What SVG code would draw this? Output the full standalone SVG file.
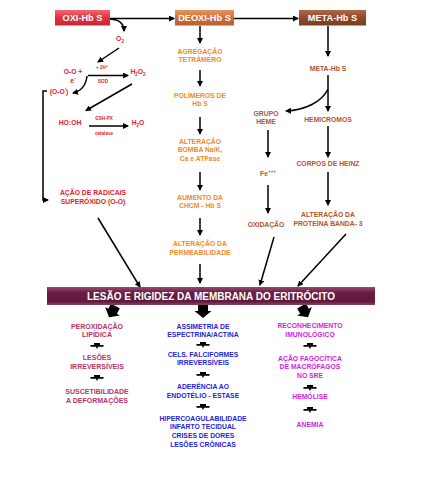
<svg xmlns="http://www.w3.org/2000/svg" width="426" height="480" viewBox="0 0 426 480">
<defs>
<style>
text{font-family:"Liberation Sans",Arial,sans-serif;font-weight:bold;text-anchor:middle}
.hd{fill:#fff;font-size:9.2px}
.red{fill:#e8202a;font-size:6.8px}
.sm{fill:#e8202a;font-size:4.6px}
.or{fill:#f28a1e;font-size:6.8px}
.br{fill:#b4552a;font-size:6.8px}
.c1{fill:#b8336a;font-size:7px}
.c2{fill:#2424d8;font-size:6.8px}
.c3{fill:#d21ee0;font-size:6.8px}
.bar{fill:#fff;font-size:10px}
.ln{stroke:#000;stroke-width:1.5;fill:none}
</style>
<marker id="ah" markerWidth="6" markerHeight="6" refX="5" refY="3" orient="auto" markerUnits="userSpaceOnUse"><path d="M0,0 L6,3 L0,6 Z" fill="#000"/></marker>
<linearGradient id="gOxi" x1="0" y1="0" x2="0" y2="1"><stop offset="0" stop-color="#f06a72"/><stop offset="0.5" stop-color="#e0303c"/><stop offset="1" stop-color="#c82834"/></linearGradient>
<linearGradient id="gDeo" x1="0" y1="0" x2="0" y2="1"><stop offset="0" stop-color="#e8935e"/><stop offset="0.5" stop-color="#d0703c"/><stop offset="1" stop-color="#b85e30"/></linearGradient>
<linearGradient id="gMeta" x1="0" y1="0" x2="0" y2="1"><stop offset="0" stop-color="#b06848"/><stop offset="0.5" stop-color="#8e4a2c"/><stop offset="1" stop-color="#7a3c22"/></linearGradient>
<linearGradient id="gBar" x1="0" y1="0" x2="0" y2="1"><stop offset="0" stop-color="#9a4a70"/><stop offset="0.3" stop-color="#6b1d44"/><stop offset="0.8" stop-color="#5e1a3c"/><stop offset="1" stop-color="#8a4066"/></linearGradient>
<polygon id="big" points="-5,-7 5,-7 5,-1 8.5,-1 0,6 -8.5,-1 -5,-1" fill="#000"/>
<polygon id="small" points="-3,-3 3,-3 3,-1 6.5,-1 6.5,0.8 1.2,0.8 0,3 -1.2,0.8 -6.5,0.8 -6.5,-1 -3,-1" fill="#000"/>
</defs>

<g id="connectors">
<line class="ln" x1="110" y1="18.5" x2="174" y2="18.5" marker-end="url(#ah)"/>
<line class="ln" x1="234" y1="18.5" x2="298" y2="18.5" marker-end="url(#ah)"/>
<path class="ln" d="M108,19 C118,19 124,22 124,31" marker-end="url(#ah)"/>
<line class="ln" x1="119" y1="48" x2="98" y2="62" marker-end="url(#ah)"/>
<line class="ln" x1="88" y1="75.5" x2="128" y2="75.5" marker-end="url(#ah)"/>
<path class="ln" d="M87,76 C86,86 81,91 73,93" marker-end="url(#ah)"/>
<polyline class="ln" points="47,91 43,91 43,200 48,200" marker-end="url(#ah)"/>
<line class="ln" x1="132" y1="84" x2="86" y2="110.5" marker-end="url(#ah)"/>
<line class="ln" x1="89" y1="126" x2="128" y2="126" marker-end="url(#ah)"/>
<line class="ln" x1="98" y1="218" x2="140" y2="287" marker-end="url(#ah)"/>

<line class="ln" x1="200" y1="26" x2="200" y2="43" marker-end="url(#ah)"/>
<line class="ln" x1="200" y1="70" x2="200" y2="86" marker-end="url(#ah)"/>
<line class="ln" x1="200" y1="117" x2="200" y2="134" marker-end="url(#ah)"/>
<line class="ln" x1="200" y1="172" x2="200" y2="190" marker-end="url(#ah)"/>
<line class="ln" x1="200" y1="218" x2="200" y2="235" marker-end="url(#ah)"/>
<line class="ln" x1="200" y1="264" x2="200" y2="283" marker-end="url(#ah)"/>

<line class="ln" x1="328" y1="26" x2="328" y2="56" marker-end="url(#ah)"/>
<line class="ln" x1="328" y1="75" x2="328" y2="111" marker-end="url(#ah)"/>
<path class="ln" d="M328,89 C322,102 305,110 286,111" marker-end="url(#ah)"/>
<line class="ln" x1="268" y1="130" x2="268" y2="157" marker-end="url(#ah)"/>
<line class="ln" x1="268" y1="185" x2="268" y2="213" marker-end="url(#ah)"/>
<line class="ln" x1="274" y1="237" x2="260" y2="285" marker-end="url(#ah)"/>
<line class="ln" x1="328" y1="126" x2="328" y2="157" marker-end="url(#ah)"/>
<line class="ln" x1="328" y1="172" x2="328" y2="205" marker-end="url(#ah)"/>
<line class="ln" x1="346" y1="234" x2="298" y2="286" marker-end="url(#ah)"/>

<use href="#big" transform="translate(112,312) rotate(30)"/>
<use href="#big" transform="translate(203,312)"/>
<use href="#big" transform="translate(305,312) rotate(-30)"/>

<use href="#small" x="97" y="346"/>
<use href="#small" x="97" y="378"/>
<use href="#small" x="203" y="345"/>
<use href="#small" x="203" y="375"/>
<use href="#small" x="203" y="407"/>
<use href="#small" x="310" y="346"/>
<use href="#small" x="310" y="388"/>
<use href="#small" x="310" y="410"/>
</g>

<g id="oxi"><rect x="55" y="10" width="55" height="15.5" fill="url(#gOxi)"/><text class="hd" x="82.5" y="21.2">OXI-Hb S</text></g>
<g id="deoxi"><rect x="175" y="10" width="59" height="15.5" fill="url(#gDeo)"/><text class="hd" x="204.5" y="21.2">DEOXI-Hb S</text></g>
<g id="meta"><rect x="299" y="10" width="67" height="15.5" fill="url(#gMeta)"/><text class="hd" x="332.5" y="21.2">META-Hb S</text></g>

<g id="o2"><text class="red" x="120" y="41" font-size="7.5">O<tspan font-size="4.5" dy="1.5">2</tspan></text></g>
<g id="oo"><text class="red" x="73" y="74">O-O +</text><text class="red" x="73" y="83">e<tspan font-size="4.5" dy="-3">-</tspan></text></g>
<g id="sod"><text class="sm" x="102" y="69">+ 2H<tspan font-size="3.5" dy="-2">+</tspan></text><text class="sm" x="103" y="83">SOD</text></g>
<g id="h2o2"><text class="red" x="138" y="74">H<tspan font-size="4.5" dy="1.5">2</tspan><tspan dy="-1.5">O</tspan><tspan font-size="4.5" dy="1.5">2</tspan></text></g>
<g id="ooradical"><text class="red" x="59" y="94">(O-O<tspan font-size="4.5" dy="-2.5">'</tspan><tspan dy="2.5">)</tspan></text></g>
<g id="hooh"><text class="red" x="70" y="125">HO:OH</text></g>
<g id="gshpx"><text class="sm" x="104" y="120">GSH-PX</text><text class="sm" x="104" y="135">catalase</text></g>
<g id="h2o"><text class="red" x="138" y="125">H<tspan font-size="4.5" dy="1.5">2</tspan><tspan dy="-1.5">O</tspan></text></g>
<g id="acao"><text class="red" x="93" y="195">AÇÃO DE RADICAIS</text><text class="red" x="93" y="204">SUPERÓXIDO (O-O)</text></g>

<g id="agregacao"><text class="or" x="200" y="54">AGREGAÇÃO</text><text class="or" x="200" y="62">TETRÂMERO</text></g>
<g id="polimeros"><text class="or" x="200" y="98">POLÍMEROS DE</text><text class="or" x="200" y="106">Hb S</text></g>
<g id="bomba"><text class="or" x="200" y="144">ALTERAÇÃO</text><text class="or" x="200" y="152">BOMBA Na/K,</text><text class="or" x="200" y="161">Ca e ATPase</text></g>
<g id="chcm"><text class="or" x="200" y="200">AUMENTO DA</text><text class="or" x="200" y="208">CHCM - Hb S</text></g>
<g id="perm"><text class="or" x="200" y="246">ALTERAÇÃO DA</text><text class="or" x="200" y="255">PERMEABILIDADE</text></g>

<g id="metahb"><text class="br" x="328" y="71">META-Hb S</text></g>
<g id="heme"><text class="br" x="266" y="116">GRUPO</text><text class="br" x="266" y="124">HEME</text></g>
<g id="hemicromos"><text class="br" x="328" y="122">HEMICROMOS</text></g>
<g id="fe"><text class="br" x="268" y="176">Fe<tspan font-size="4.5" dy="-3">+++</tspan></text></g>
<g id="oxidacao"><text class="br" x="266" y="227">OXIDAÇÃO</text></g>
<g id="heinz"><text class="br" x="328" y="166">CORPOS DE HEINZ</text></g>
<g id="banda3"><text class="br" x="328" y="217">ALTERAÇÃO DA</text><text class="br" x="328" y="226">PROTEÍNA BANDA- 3</text></g>

<g id="lesao"><rect x="47" y="287" width="328" height="18" fill="url(#gBar)"/><text class="bar" x="211" y="299.7">LESÃO E RIGIDEZ DA MEMBRANA DO ERITRÓCITO</text></g>

<g id="peroxidacao"><text class="c1" x="97" y="329">PEROXIDAÇÃO</text><text class="c1" x="97" y="337">LIPÍDICA</text></g>
<g id="lesoes"><text class="c1" x="97" y="360">LESÕES</text><text class="c1" x="97" y="369">IRREVERSÍVEIS</text></g>
<g id="suscet"><text class="c1" x="97" y="394">SUSCETIBILIDADE</text><text class="c1" x="97" y="403">A DEFORMAÇÕES</text></g>

<g id="assimetria"><text class="c2" x="203" y="329">ASSIMETRIA DE</text><text class="c2" x="203" y="337">ESPECTRINA/ACTINA</text></g>
<g id="cels"><text class="c2" x="203" y="357">CELS. FALCIFORMES</text><text class="c2" x="203" y="365">IRREVERSÍVEIS</text></g>
<g id="aderencia"><text class="c2" x="203" y="389">ADERÊNCIA AO</text><text class="c2" x="203" y="398">ENDOTÉLIO - ESTASE</text></g>
<g id="hiper"><text class="c2" x="203" y="421">HIPERCOAGULABILIDADE</text><text class="c2" x="203" y="429">INFARTO TECIDUAL</text><text class="c2" x="203" y="438">CRISES DE DORES</text><text class="c2" x="203" y="447">LESÕES CRÔNICAS</text></g>

<g id="reconhecimento"><text class="c3" x="310" y="328">RECONHECIMENTO</text><text class="c3" x="310" y="337">IMUNOLÓGICO</text></g>
<g id="fagocitica"><text class="c3" x="310" y="361">AÇÃO FAGOCÍTICA</text><text class="c3" x="310" y="369">DE MACRÓFAGOS</text><text class="c3" x="310" y="378">NO SRE</text></g>
<g id="hemolise"><text class="c3" x="310" y="399">HEMÓLISE</text></g>
<g id="anemia"><text class="c3" x="310" y="427">ANEMIA</text></g>
</svg>
